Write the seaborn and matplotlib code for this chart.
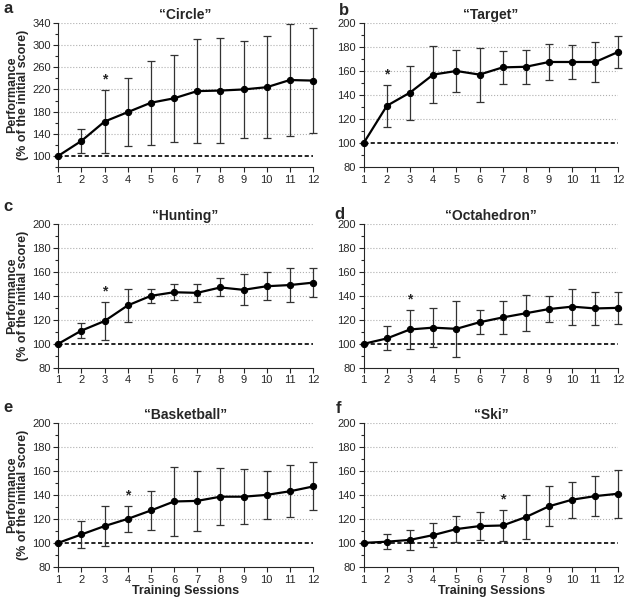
import numpy as np
import pandas as pd
import matplotlib
matplotlib.use("Agg")
import matplotlib.pyplot as plt
from matplotlib.ticker import MultipleLocator
import seaborn as sns

sns.set_style("ticks")
plt.rcParams['font.family'] = ['Liberation Sans', 'DejaVu Sans']

sessions = np.arange(1, 13)

# mean performance (% of initial score) and SD
circle_mean = [100, 127, 162, 179, 196, 204, 217, 218, 220, 224, 237, 236]
circle_sd = [0, 21.5, 57.5, 61.5, 76, 78.5, 94, 94.5, 88, 92, 101.5, 94.5]
target_mean = [100, 131, 142, 157, 160, 157, 163, 163.5, 167.5, 167.5, 167.5, 176]
target_sd = [0, 17.5, 22.5, 24, 17.5, 22.5, 14, 14, 15, 14.5, 16.5, 13.5]
hunting_mean = [100, 111, 119, 132, 140, 143, 142.5, 147, 145, 148, 149, 151]
hunting_sd = [0, 6.5, 16, 14, 6, 6.5, 7.5, 7.5, 13, 11.5, 14, 12]
octa_mean = [100, 104.5, 112, 113.5, 112.5, 118, 122, 125.5, 129, 131, 129.5, 130]
octa_sd = [0, 10, 16, 16.5, 23.5, 10, 14, 15, 10.5, 15, 14, 13.5]
basket_mean = [100, 107, 114, 120, 127, 134.5, 135, 138.5, 138.5, 140, 143, 147]
basket_sd = [0, 11, 17, 11, 16, 29, 25, 23.5, 23, 20, 21.5, 20]
ski_mean = [100, 101, 102.5, 106.5, 111.5, 114, 114.5, 121.5, 130.5, 136, 139, 141]
ski_sd = [0, 6, 8.5, 10, 10.5, 12, 13, 18, 16.5, 15, 16.5, 20]

panels = [
    ("a", "\u201cCircle\u201d", circle_mean, circle_sd, 3, (80, 340), 40),
    ("b", "\u201cTarget\u201d", target_mean, target_sd, 2, (80, 200), 20),
    ("c", "\u201cHunting\u201d", hunting_mean, hunting_sd, 3, (80, 200), 20),
    ("d", "\u201cOctahedron\u201d", octa_mean, octa_sd, 3, (80, 200), 20),
    ("e", "\u201cBasketball\u201d", basket_mean, basket_sd, 4, (80, 200), 20),
    ("f", "\u201cSki\u201d", ski_mean, ski_sd, 7, (80, 200), 20),
]
letter_pos = [(-0.216, 1.15), (-0.098, 1.14), (-0.216, 1.17),
              (-0.114, 1.12), (-0.216, 1.16), (-0.11, 1.15)]

fig = plt.figure(figsize=(6.26, 6.05), dpi=100)
lefts = [0.093, 0.581]
bottoms = [0.724, 0.392, 0.063]
w, h = 0.407, 0.238

for i, (letter, title, mean, sd, star, ylim, step) in enumerate(panels):
    row, col = i // 2, i % 2
    ax = fig.add_axes([lefts[col], bottoms[row], w, h])
    df = pd.DataFrame({'session': sessions, 'perf': mean, 'sd': sd})

    # grid lines at major ticks
    for yv in np.arange(120 if step == 20 else 140, ylim[1] + 1, step):
        ax.axhline(yv, color='#b0b0b0', linestyle=':', linewidth=0.8, zorder=0)
    ax.axhline(100, color='black', linestyle=(0, (2.5, 1.5)), linewidth=1.2, zorder=1)

    eb = ax.errorbar(df['session'], df['perf'], yerr=df['sd'], fmt='none',
                     ecolor='#333333', elinewidth=0.9, capsize=3, capthick=0.9, zorder=2)
    for art in eb.get_children():
        art.set_clip_on(False)
    sns.lineplot(data=df, x='session', y='perf', ax=ax, color='black',
                 linewidth=1.6, marker='o', markersize=4.5, markeredgecolor='black',
                 zorder=3, clip_on=False)

    ytop = mean[star - 1] + sd[star - 1]
    ax.text(star, ytop + (step * 0.15), '*', ha='center', va='bottom',
            fontsize=10, fontweight='bold')

    ax.set_xlim(1, 12)
    ax.set_ylim(*ylim)
    ax.set_xticks(sessions)
    if step == 40:
        ax.set_yticks(np.arange(100, 341, 40))
        ax.yaxis.set_minor_locator(MultipleLocator(20))
    else:
        ax.set_yticks(np.arange(80, 201, 20))
        ax.yaxis.set_minor_locator(MultipleLocator(10))
    ax.tick_params(axis='both', labelsize=8, length=3.5, width=0.8, pad=2)
    ax.tick_params(axis='y', which='minor', length=2, width=0.8)
    for s in ['top', 'right']:
        ax.spines[s].set_visible(False)
    for s in ['left', 'bottom']:
        ax.spines[s].set_linewidth(0.8)
    ax.set_title(title, fontsize=10, fontweight='bold', pad=3)
    ax.set_xlabel('Training Sessions' if row == 2 else '', fontsize=9,
                  fontweight='bold', labelpad=0)
    ax.set_ylabel('Performance\n(% of the initial score)' if col == 0 else '',
                  fontsize=9, fontweight='bold', linespacing=0.9, labelpad=2)
    lx, ly = letter_pos[i]
    ax.text(lx, ly, letter, transform=ax.transAxes,
            fontsize=12, fontweight='bold', va='top', ha='left')

fig.savefig('out.png', dpi=100)
